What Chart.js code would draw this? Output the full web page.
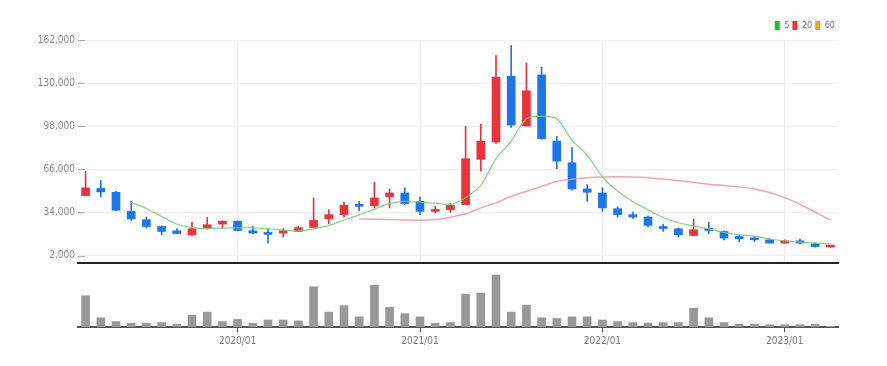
<!DOCTYPE html>
<html><head><meta charset="utf-8">
<script src="https://cdn.jsdelivr.net/npm/chart.js@4/dist/chart.umd.min.js"></script>
<style>
html,body{margin:0;padding:0;background:#fff;}
#wrap{position:relative;width:887px;height:366px;overflow:hidden;}
#c1wrap{position:absolute;left:0;top:0;width:887px;height:272px;}
#c2wrap{position:absolute;left:0;top:266px;width:887px;height:100px;}
</style></head><body>
<div id="wrap"><div id="c1wrap"><canvas id="price"></canvas></div><div id="c2wrap"><canvas id="vol"></canvas></div></div>
<script>
const months = ['2019/03','2019/04','2019/05','2019/06','2019/07','2019/08','2019/09','2019/10','2019/11','2019/12',
'2020/01','2020/02','2020/03','2020/04','2020/05','2020/06','2020/07','2020/08','2020/09','2020/10','2020/11','2020/12',
'2021/01','2021/02','2021/03','2021/04','2021/05','2021/06','2021/07','2021/08','2021/09','2021/10','2021/11','2021/12',
'2022/01','2022/02','2022/03','2022/04','2022/05','2022/06','2022/07','2022/08','2022/09','2022/10','2022/11','2022/12',
'2023/01','2023/02','2023/03','2023/04'];
const opens  = [46500,51800,49000,34800,28600,23600,20400,17400,21900,25400,27400,20400,18700,18700,19900,22900,29200,32400,39800,39100,45600,48500,42300,34800,36100,39800,73400,86300,135100,98200,136100,87000,70900,51500,48500,36800,32400,30600,23600,21900,16900,21700,19900,16200,15000,13700,11250,13000,10700,8300];
const closes = [52300,49300,35600,29200,23600,19900,18400,21900,24900,27400,20650,18700,17700,20400,22700,28100,32400,39300,38600,44800,48500,40600,34800,36100,39300,73900,87000,134300,98800,124300,88800,72100,51500,49000,37400,32400,30600,24400,22100,17400,21200,20650,15000,14500,13700,11250,13000,11250,8700,9200];
const highs  = [64700,57700,49700,42300,30600,24100,21900,26600,30300,27900,27900,23600,21900,21900,23600,44800,36100,41500,42300,56500,51500,52300,45600,38600,40600,97800,99500,150500,157900,145000,141800,90500,82100,54700,52300,38100,34400,31600,25400,22400,29200,26600,20400,16900,16200,14500,13700,14200,11250,9500];
const lows   = [46500,45600,35300,28100,22400,17400,18200,16900,21700,21900,20400,18200,11250,15700,19900,22900,25600,30600,35300,37400,37400,39800,32400,33600,34100,39800,64700,85300,97000,98200,88300,66500,50500,42300,34800,30600,29600,23200,19900,15700,16900,18200,13700,12400,12400,11250,11250,10700,8300,8300];
const ma5  = [null,null,null,41600,37000,31000,25400,22800,22200,22400,22600,22600,21900,21000,20300,21800,24300,28400,32200,36500,40800,42300,41600,41000,40000,45000,54200,74000,87000,103500,105500,103500,87500,76500,60500,50000,42000,36000,30300,26400,24000,21800,19200,17500,16400,14300,12900,12000,11400,10700];
const ma20 = [null,null,null,null,null,null,null,null,null,null,null,null,null,null,null,null,null,null,29200,29000,28800,28500,28200,28800,30500,33000,37400,41100,46000,49700,53500,57000,58600,59700,60400,60600,60400,59800,58800,57600,56300,55000,54000,53000,51400,48800,45000,40000,34300,28300];
const ma60 = months.map(() => null);
const volumes = [330,97,57,40,40,47,30,124,157,57,80,40,74,74,64,424,157,224,107,440,207,140,107,40,47,347,357,547,157,230,97,90,107,107,74,57,47,40,47,47,197,97,47,30,30,24,24,24,30,7];
const priceTicks = [2000,34000,66000,98000,130000,162000];

const UP = '#e8343a', DOWN = '#1c76e3';
const upDown = closes.map((c,i) => c >= opens[i] ? UP : DOWN);
const bodies = opens.map((o,i) => [o, closes[i]]);
const wicks = lows.map((l,i) => [l, highs[i]]);
const isJan = i => months[i] && months[i].endsWith('/01');
const FONT = "'DejaVu Sans Condensed','Liberation Sans Narrow','Arial Narrow','Liberation Sans',sans-serif";
const LEFT = 78, RIGHT_PAD = 887 - 838;

const tickDash = {
  id: 'tickDash',
  afterDraw(chart) {
    const y = chart.scales.y, ctx = chart.ctx, left = chart.chartArea.left;
    ctx.save(); ctx.strokeStyle = '#aaa'; ctx.lineWidth = 1;
    y.ticks.forEach((t, i) => {
      const py = Math.round(y.getPixelForTick(i)) + 0.5;
      ctx.beginPath(); ctx.moveTo(left, py); ctx.lineTo(left + 7, py); ctx.stroke();
    });
    ctx.restore();
  }
};

new Chart(document.getElementById('price'), {
  type: 'bar',
  data: {
    labels: months,
    datasets: [
      {type:'line', label:'5', data: ma5, borderColor:'rgba(120,205,120,0.9)', backgroundColor:'#2db52d', borderWidth:1.2, pointRadius:0, tension:0.3, order:0},
      {type:'line', label:'20', data: ma20, borderColor:'rgba(240,150,155,0.85)', backgroundColor:'#e8343a', borderWidth:1.5, pointRadius:0, tension:0.3, order:0},
      {type:'line', label:'60', data: ma60, borderColor:'#f0a030', backgroundColor:'#f0a030', borderWidth:1.5, pointRadius:0, order:0},
      {label:'body', data: bodies, backgroundColor: upDown, borderWidth:0, barThickness:8, minBarLength:2, grouped:false, order:1},
      {label:'wick', data: wicks, backgroundColor: upDown, borderWidth:0, barThickness:1, grouped:false, order:2}
    ]
  },
  options: {
    animation:false, responsive:true, maintainAspectRatio:false,
    layout:{padding:{left:0, right:RIGHT_PAD, top:18, bottom:7}},
    plugins:{
      tooltip:{enabled:false},
      legend:{
        position:'top', align:'end',
        labels:{
          boxWidth:5, boxHeight:9, padding:3, color:'#777',
          font:{family:FONT, size:9},
          generateLabels(chart){
            return chart.data.datasets.slice(0,3).map((d,i)=>({text:d.label, fillStyle:d.backgroundColor, strokeStyle:d.backgroundColor, lineWidth:0, datasetIndex:i, fontColor:'#777'}));
          }
        }
      }
    },
    scales:{
      x:{
        offset:true,
        grid:{offset:false, drawTicks:false, color: c => isJan(c.index) ? '#ececec' : 'rgba(0,0,0,0)'},
        ticks:{display:false},
        border:{color:'#222', width:2}
      },
      y:{
        min:-3500, max:162000,
        afterBuildTicks: s => { s.ticks = priceTicks.map(v => ({value:v})); },
        afterFit: s => { s.width = LEFT; },
        grid:{color:'#efefef', drawTicks:false},
        border:{display:false},
        ticks:{padding:3, color:'#888', font:{family:FONT, size:10}, callback: v => v.toLocaleString('en-US')}
      }
    }
  },
  plugins:[tickDash]
});

new Chart(document.getElementById('vol'), {
  type:'bar',
  data:{labels: months, datasets:[{label:'volume', data: volumes, backgroundColor:'#999', borderWidth:0, barThickness:8}]},
  options:{
    animation:false, responsive:true, maintainAspectRatio:false,
    layout:{padding:{left:LEFT, right:RIGHT_PAD, top:6, bottom:16}},
    plugins:{legend:{display:false}, tooltip:{enabled:false}},
    scales:{
      x:{
        offset:true,
        grid:{offset:false, drawOnChartArea:false, tickLength:5, tickColor: c => isJan(c.index) ? '#555' : 'rgba(0,0,0,0)'},
        border:{color:'#555', width:2},
        ticks:{autoSkip:false, maxRotation:0, padding:3, color:'#777', font:{family:FONT, size:10}, callback:(v,i) => isJan(i) ? months[i] : ''}
      },
      y:{display:false, min:0, max:580}
    }
  }
});
</script>
</body></html>
